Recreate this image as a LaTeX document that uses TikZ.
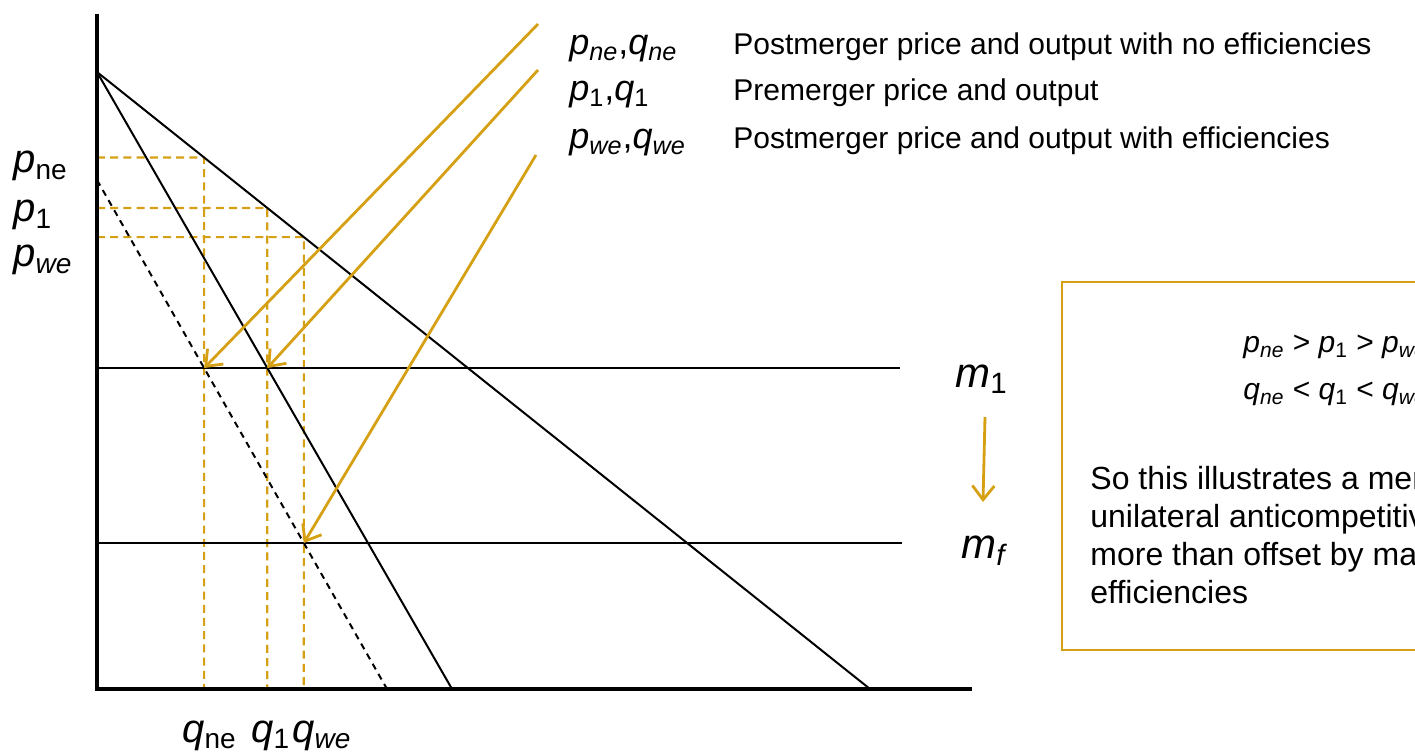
\documentclass[tikz,border=0pt]{standalone}
\usepackage{fontspec}
\setmainfont{Liberation Sans}
\usetikzlibrary{arrows.meta,calc}

\definecolor{gold}{RGB}{214,160,20}
\newcommand{\vsub}[2]{\textit{#1}\textsubscript{\textit{#2}}}
\newcommand{\vsubr}[2]{\textit{#1}\textsubscript{#2}}

\begin{document}
\begin{tikzpicture}[x=0.5pt,y=-0.5pt,
  axisline/.style={black,line width=2.4pt},
  curveline/.style={black,line width=1pt},
  guide/.style={gold,line width=1.1pt,dash pattern=on 4pt off 2.6pt},
  pointer/.style={gold,line width=1.4pt,-{Straight Barb[length=7pt,width=11pt]}},
  lbl/.style={inner sep=0pt,anchor=base west}]
\useasboundingbox (0,0) rectangle (1415,754);
\clip (0,0) rectangle (1415,754);
% axes and curves
\coordinate (O) at (97,689);
\coordinate (ytop) at (97,14);
\coordinate (xend) at (972,689);
\coordinate (A) at (97,72);
\coordinate (Dend) at (870,689);
\coordinate (MRend) at (452,689);
\coordinate (B) at (97,180);
\coordinate (MRfend) at (387,689);
\coordinate (m1l) at (97,368);
\coordinate (m1r) at (900,368);
\coordinate (mfl) at (97,543);
\coordinate (mfr) at (902,543);
% equilibrium points
\coordinate (E0) at (intersection of B--MRfend and m1l--m1r);
\coordinate (E1) at (intersection of A--MRend and m1l--m1r);
\coordinate (E2) at (intersection of B--MRfend and mfl--mfr);
\coordinate (q0) at (E0 |- O);
\coordinate (q1) at (E1 |- O);
\coordinate (q2) at (E2 |- O);
\coordinate (P0) at (intersection of A--Dend and E0--q0);
\coordinate (P1) at (intersection of A--Dend and E1--q1);
\coordinate (P2) at (intersection of A--Dend and E2--q2);
\draw[guide] (A |- P0) -- (P0) -- (q0);
\draw[guide] (A |- P1) -- (P1) -- (q1);
\draw[guide] (A |- P2) -- (P2) -- (q2);
\draw[curveline] (A) -- (Dend);
\draw[curveline] (A) -- (MRend);
\draw[curveline,dash pattern=on 3.2pt off 2.6pt] (B) -- (MRfend);
\draw[curveline] (m1l) -- (m1r);
\draw[curveline] (mfl) -- (mfr);
\draw[axisline] (ytop) -- ([yshift=-1.2pt]O);
\draw[axisline] ([xshift=-1.2pt]O) -- (xend);
% axis labels
\node[lbl] (pne) at (13,173) {\fontsize{20}{24}\selectfont\vsubr{p}{ne}};
\node[lbl] (p1) at (13,222) {\fontsize{20}{24}\selectfont\vsubr{p}{1}};
\node[lbl] (pwe) at (13,267) {\fontsize{20}{24}\selectfont\vsub{p}{we}};
\node[lbl] (qne) at (182,742) {\fontsize{20}{24}\selectfont\vsubr{q}{ne}};
\node[lbl] (q1lab) at (251,742) {\fontsize{20}{24}\selectfont\vsubr{q}{1}};
\node[lbl] (qwe) at (292,742) {\fontsize{20}{24}\selectfont\vsub{q}{we}};
\node[lbl] (m1lab) at (955,387) {\fontsize{21}{25}\selectfont\vsubr{m}{1}};
\node[lbl] (mflab) at (961,558) {\fontsize{21}{25}\selectfont\vsub{m}{f}};
\coordinate (ma) at (985,417);
\coordinate (mb) at (983,502);
\draw[pointer] (ma) -- (mb);
% legend
\node[lbl] (k0) at (569,55) {\fontsize{18}{21}\selectfont\vsub{p}{ne},\vsub{q}{ne}};
\node[lbl] (k1) at (569,101) {\fontsize{18}{21}\selectfont\vsubr{p}{1},\vsubr{q}{1}};
\node[lbl] (k2) at (569,149) {\fontsize{18}{21}\selectfont\vsub{p}{we},\vsub{q}{we}};
\node[lbl] (t0) at (733,55) {\fontsize{15}{18}\selectfont Postmerger price and output with no efficiencies};
\node[lbl] (t1) at (733,101) {\fontsize{15}{18}\selectfont Premerger price and output};
\node[lbl] (t2) at (733,149) {\fontsize{15}{18}\selectfont Postmerger price and output with efficiencies};
\coordinate (s0) at (538,24);
\coordinate (s1) at (538,70);
\coordinate (s2) at (536,155);
\draw[pointer] (s0) -- (E0);
\draw[pointer] (s1) -- (E1);
\draw[pointer] (s2) -- (E2);
% summary box
\draw[gold,line width=1.2pt] (1062,282) rectangle (1440,650);
\node[lbl] (ineqp) at (1243,353) {\fontsize{15}{18}\selectfont\vsub{p}{ne} > \vsubr{p}{1} > \vsub{p}{we}};
\node[lbl] (ineqq) at (1243,400) {\fontsize{15}{18}\selectfont\vsub{q}{ne} < \vsubr{q}{1} < \vsub{q}{we}};
\node[inner sep=0pt,anchor=north west,align=left,font={\fontsize{16}{19}\selectfont}] (note) at (1090,466)
  {So this illustrates a mer\\unilateral anticompetitiv\\more than offset by ma\\efficiencies};
\end{tikzpicture}
\end{document}
